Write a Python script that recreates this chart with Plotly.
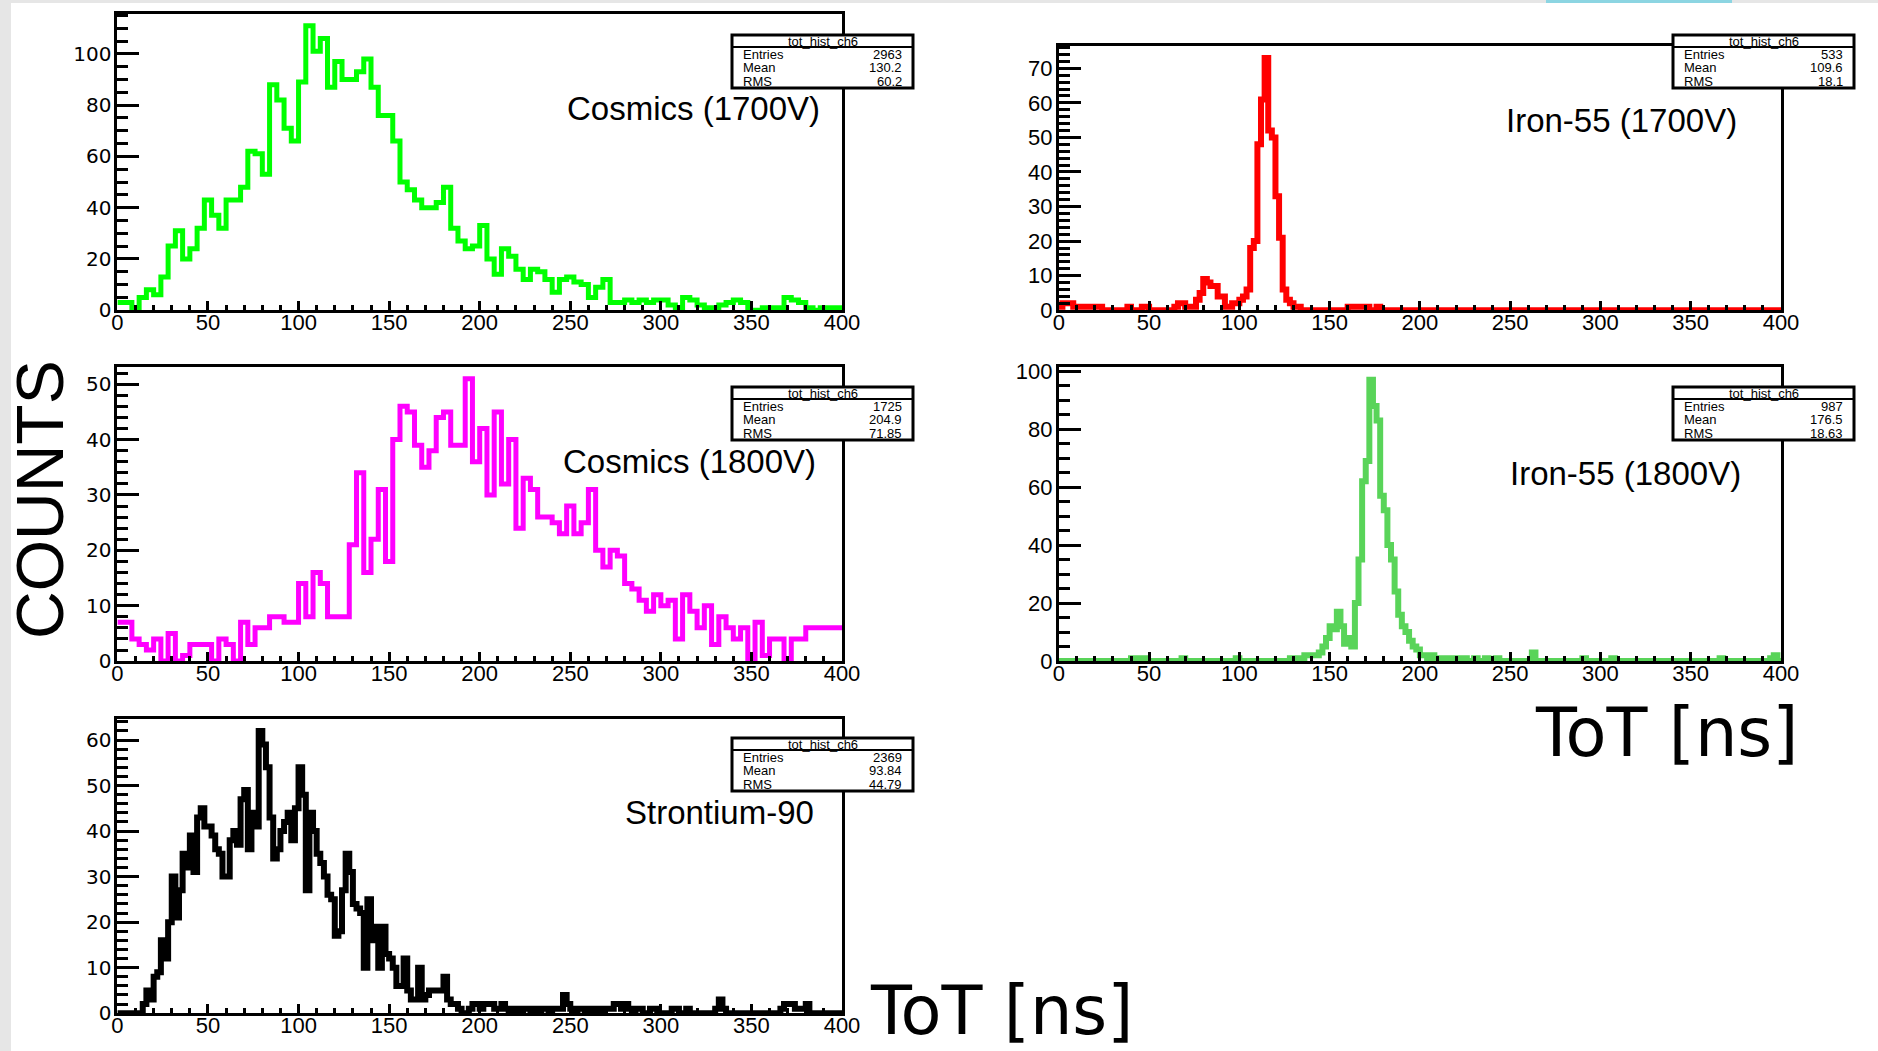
import plotly.graph_objects as go

W, H = 1878, 1051

# ---------------- data (bin contents) ----------------
X_RANGE = [0, 400]
COARSE_BIN = 4   # ns, 100 bins
FINE_BIN = 2     # ns, 200 bins

cosmics_1700 = [
    3, 3, 1, 5, 8, 6, 13, 25, 31, 20,
    24, 32, 43, 37, 32, 43, 43, 48, 62, 61,
    53, 88, 82, 71, 66, 89, 111, 101, 106, 87,
    97, 90, 90, 93, 98, 87, 76, 76, 66, 50,
    47, 43, 40, 40, 42, 48, 32, 27, 24, 25,
    33, 20, 14, 24, 21, 16, 12, 16, 15, 12,
    7, 12, 13, 11, 10, 5, 9, 12, 3, 3,
    4, 3, 4, 3, 4, 4, 2, 1, 5, 4,
    2, 1, 1, 2, 3, 4, 3, 0, 0, 1,
    1, 1, 5, 4, 3, 1, 0, 1, 1, 1,
]

cosmics_1800 = [
    7, 7, 4, 3, 2, 4, 0, 5, 0, 1,
    3, 3, 3, 0, 4, 3, 0, 7, 3, 6,
    6, 8, 8, 7, 7, 14, 8, 16, 14, 8,
    8, 8, 21, 34, 16, 22, 31, 18, 40, 46,
    45, 39, 35, 38, 44, 45, 39, 39, 51, 36,
    42, 30, 45, 32, 40, 24, 33, 31, 26, 26,
    25, 23, 28, 23, 25, 31, 20, 17, 20, 19,
    14, 13, 11, 9, 12, 10, 11, 4, 12, 9,
    6, 10, 3, 8, 6, 4, 6, 0, 7, 1,
    4, 4, 0, 4, 4, 6, 6, 6, 6, 6,
]

iron55_1700 = [
    1, 2, 2, 2, 1, 1, 1, 1, 1, 1,
    1, 1, 0, 0, 0, 0, 0, 0, 0, 1,
    0, 0, 0, 1, 1, 0, 0, 0, 0, 0,
    0, 0, 1, 2, 2, 1, 1, 1, 3, 5,
    9, 8, 7, 7, 4, 4, 1, 1, 2, 2,
    3, 4, 6, 18, 20, 48, 61, 73, 52, 50,
    33, 21, 6, 3, 2, 1, 1, 0, 0, 0,
    0, 0, 0, 0, 0, 0, 0, 0, 0, 0,
    1, 1, 1, 1, 1, 1, 0, 0, 1, 0,
    0, 0, 0, 0, 0, 0, 0, 0, 0, 0,
    0, 0, 0, 0, 0, 0, 0, 0, 0, 0,
    0, 0, 0, 0, 0, 0, 0, 0, 0, 0,
    0, 0, 0, 0, 0, 0, 0, 0, 0, 0,
    0, 0, 0, 0, 0, 0, 0, 0, 0, 0,
    0, 0, 0, 0, 0, 0, 0, 0, 0, 0,
    0, 0, 0, 0, 0, 0, 0, 0, 0, 0,
    0, 0, 0, 0, 0, 0, 0, 0, 0, 0,
    0, 0, 0, 0, 0, 0, 0, 0, 0, 0,
    0, 0, 0, 0, 0, 0, 0, 0, 0, 0,
    0, 0, 0, 0, 0, 0, 0, 0, 0, 0,
]

iron55_1800 = [
    0, 0, 0, 0, 0, 0, 0, 0, 0, 0,
    0, 0, 0, 0, 0, 0, 0, 0, 0, 0,
    1, 1, 0, 1, 0, 0, 0, 0, 0, 0,
    0, 0, 0, 0, 1, 0, 0, 0, 0, 0,
    0, 0, 0, 0, 0, 0, 0, 0, 0, 1,
    0, 0, 0, 0, 0, 0, 0, 0, 0, 0,
    0, 0, 0, 0, 1, 1, 0, 1, 2, 2,
    2, 2, 3, 5, 8, 12, 11, 17, 12, 6,
    8, 5, 20, 35, 62, 69, 97, 88, 83, 57,
    52, 40, 35, 24, 16, 12, 10, 7, 5, 4,
    2, 2, 1, 2, 1, 1, 0, 1, 1, 0,
    1, 1, 1, 0, 0, 1, 0, 0, 1, 0,
    0, 1, 0, 0, 0, 0, 0, 0, 0, 0,
    0, 3, 0, 0, 0, 0, 0, 0, 0, 0,
    0, 0, 0, 0, 0, 1, 0, 0, 0, 0,
    0, 0, 0, 1, 0, 0, 0, 0, 0, 0,
    0, 0, 0, 0, 0, 0, 0, 0, 0, 0,
    0, 0, 0, 0, 0, 0, 0, 0, 0, 0,
    0, 0, 0, 1, 0, 0, 0, 0, 0, 0,
    0, 0, 0, 0, 0, 0, 0, 1, 2, 0,
]

strontium_90 = [
    0, 0, 0, 0, 0, 0, 0, 2, 5, 3,
    8, 9, 16, 12, 20, 30, 21, 27, 35, 32,
    39, 31, 43, 45, 41, 41, 39, 36, 35, 30,
    30, 38, 40, 37, 47, 49, 36, 44, 41, 62,
    59, 54, 43, 34, 36, 40, 42, 44, 38, 45,
    54, 48, 27, 44, 40, 35, 33, 30, 26, 25,
    17, 18, 27, 35, 31, 24, 23, 22, 10, 25,
    16, 19, 10, 19, 13, 12, 10, 6, 6, 12,
    5, 3, 3, 10, 3, 4, 5, 5, 5, 5,
    8, 3, 2, 2, 1, 0, 0, 1, 2, 2,
    1, 2, 2, 2, 1, 1, 2, 1, 0, 1,
    1, 0, 1, 1, 0, 1, 0, 1, 1, 0,
    1, 1, 1, 4, 2, 1, 0, 1, 1, 0,
    1, 0, 1, 0, 1, 1, 1, 2, 2, 1,
    2, 1, 0, 1, 1, 0, 0, 1, 1, 0,
    0, 0, 0, 1, 1, 0, 0, 1, 0, 0,
    0, 0, 0, 0, 0, 1, 3, 1, 0, 0,
    0, 0, 0, 0, 0, 0, 0, 0, 0, 0,
    0, 0, 0, 1, 2, 2, 2, 1, 1, 1,
    2, 0, 0, 0, 0, 0, 0, 0, 0, 0,
]

panel_labels = ["Cosmics (1700V)", "Iron-55 (1700V)", "Cosmics (1800V)",
                "Iron-55 (1800V)", "Strontium-90"]
stat_entries = ["2963", "533", "1725", "987", "2369"]
stat_means = ["130.2", "109.6", "204.9", "176.5", "93.84"]
stat_rms = ["60.2", "18.1", "71.85", "18.63", "44.79"]
hist_name = "tot_hist_ch6"

# ---------------- layout (pixel geometry) ----------------
def px(x):
    return x / W

def py(y):
    return 1 - y / H

panels = [
    dict(data=cosmics_1700, bw=COARSE_BIN, color="#00ff00", lw=5, frame=(117.4, 842.0, 14.4, 310.2),
         ymax=115.4, dtick=20, minor=5, stat=(732, 913, 35), label=(821.6, 109), left=True),
    dict(data=iron55_1700, bw=FINE_BIN, color="#ff0000", lw=6, frame=(1058.8, 1781.0, 45.5, 310.2),
         ymax=76.6, dtick=10, minor=2, stat=(1673, 1854, 35), label=(1739.0, 120), left=False),
    dict(data=cosmics_1800, bw=COARSE_BIN, color="#ff00ff", lw=5, frame=(117.4, 842.0, 366.5, 661.1),
         ymax=53.2, dtick=10, minor=2, stat=(732, 913, 387), label=(818.0, 462), left=True),
    dict(data=iron55_1800, bw=FINE_BIN, color="#59d459", lw=6, frame=(1058.8, 1781.0, 366.5, 661.1),
         ymax=101.6, dtick=20, minor=5, stat=(1673, 1854, 387), label=(1742.6, 473), left=False),
    dict(data=strontium_90, bw=FINE_BIN, color="#000000", lw=6, frame=(117.4, 842.0, 718.6, 1013.2),
         ymax=64.7, dtick=10, minor=2, stat=(732, 913, 738), label=(815.6, 812), left=True),
]

fig = go.Figure()
shapes = []
annotations = []

# background strips of the screenshot
shapes.append(dict(type="rect", xref="paper", yref="paper", x0=0, x1=px(11), y0=0, y1=1,
                   fillcolor="#e6e6e6", line=dict(width=0), layer="below"))
shapes.append(dict(type="rect", xref="paper", yref="paper", x0=0, x1=1, y0=py(3), y1=1,
                   fillcolor="#e6e6e6", line=dict(width=0), layer="below"))
shapes.append(dict(type="rect", xref="paper", yref="paper", x0=px(1546), x1=px(1732), y0=py(3), y1=1,
                   fillcolor="#8cd5e2", line=dict(width=0), layer="below"))

for i, p in enumerate(panels, start=1):
    vals = p["data"]
    n = len(vals)
    xs = [k * p["bw"] for k in range(n + 1)]
    ys = list(vals) + [vals[-1]]
    xa = "x" if i == 1 else f"x{i}"
    ya = "y" if i == 1 else f"y{i}"
    fig.add_trace(go.Scatter(x=xs, y=ys, mode="lines", line=dict(shape="hv", color=p["color"], width=p["lw"]),
                             xaxis=xa, yaxis=ya, showlegend=False, hoverinfo="skip"))
    l, r, t, b = p["frame"]
    xname = "xaxis" if i == 1 else f"xaxis{i}"
    yname = "yaxis" if i == 1 else f"yaxis{i}"
    fig.layout[xname] = dict(
        domain=[px(l), px(r)], anchor=ya, range=X_RANGE, tick0=0, dtick=50, automargin=False,
        showline=True, mirror=True, linecolor="black", linewidth=3,
        ticks="inside", ticklen=9, tickwidth=3, tickcolor="black", ticklabelstandoff=-10,
        minor=dict(dtick=10, tick0=0, ticks="inside", ticklen=5, tickwidth=3, tickcolor="black", showgrid=False),
        showgrid=False, zeroline=False,
        tickfont=dict(family="Liberation Sans, Arial, sans-serif", size=22, color="black"),
        fixedrange=True,
    )
    yfont = (dict(family="DejaVu Sans, sans-serif", size=20, color="black") if p["left"]
             else dict(family="Liberation Sans, Arial, sans-serif", size=22, color="black"))
    fig.layout[yname] = dict(
        domain=[py(b), py(t)], anchor=xa, range=[0, p["ymax"]], tick0=0, dtick=p["dtick"], automargin=False,
        showline=True, mirror=True, linecolor="black", linewidth=3,
        ticks="inside", ticklen=22, tickwidth=3, tickcolor="black", ticklabelstandoff=-1,
        minor=dict(dtick=p["minor"], tick0=0, ticks="inside", ticklen=11, tickwidth=3, tickcolor="black", showgrid=False),
        showgrid=False, zeroline=False, tickfont=yfont, fixedrange=True,
    )

    # stats box
    sl, sr, st = p["stat"]
    sep = st + 12
    sb = st + 53
    shapes.append(dict(type="rect", xref="paper", yref="paper", x0=px(sl), x1=px(sr), y0=py(sb), y1=py(st),
                       fillcolor="white", line=dict(color="black", width=3), layer="above"))
    shapes.append(dict(type="line", xref="paper", yref="paper", x0=px(sl), x1=px(sr), y0=py(sep), y1=py(sep),
                       line=dict(color="black", width=2), layer="above"))
    sfont = dict(family="Liberation Sans, Arial, sans-serif", size=13, color="black")
    annotations.append(dict(text=hist_name, xref="paper", yref="paper", x=px((sl + sr) / 2), y=py(st + 6.5),
                            xanchor="center", yanchor="middle", showarrow=False, font=sfont))
    rows = [("Entries", stat_entries[i - 1]), ("Mean", stat_means[i - 1]), ("RMS", stat_rms[i - 1])]
    for j, (lab, val) in enumerate(rows):
        yy = sep + 7.5 + 13.3 * j
        annotations.append(dict(text=lab, xref="paper", yref="paper", x=px(sl + 9), y=py(yy),
                                xanchor="left", yanchor="middle", showarrow=False, font=sfont))
        annotations.append(dict(text=val, xref="paper", yref="paper", x=px(sr - 9), y=py(yy),
                                xanchor="right", yanchor="middle", showarrow=False, font=sfont))
    # panel label
    lx, ly = p["label"]
    annotations.append(dict(text=panel_labels[i - 1], xref="paper", yref="paper", x=px(lx), y=py(ly),
                            xanchor="right", yanchor="middle", showarrow=False,
                            font=dict(family="Liberation Sans, Arial, sans-serif", size=33, color="black")))

# global axis titles
annotations.append(dict(text="COUNTS", xref="paper", yref="paper", x=px(40), y=py(500), textangle=-90,
                        xanchor="center", yanchor="middle", showarrow=False,
                        font=dict(family="Liberation Sans, Arial, sans-serif", size=66, color="black")))
tot_font = dict(family="DejaVu Sans, sans-serif", size=67, color="black")
annotations.append(dict(text="ToT [ns]", xref="paper", yref="paper", x=px(1666), y=py(733),
                        xanchor="center", yanchor="middle", showarrow=False, font=tot_font))
annotations.append(dict(text="ToT [ns]", xref="paper", yref="paper", x=px(1001), y=py(1011),
                        xanchor="center", yanchor="middle", showarrow=False, font=tot_font))

fig.update_layout(
    width=W, height=H, margin=dict(l=0, r=0, t=0, b=0, autoexpand=False),
    paper_bgcolor="white", plot_bgcolor="white",
    shapes=shapes, annotations=annotations, showlegend=False,
)

fig.write_html("out.html")
